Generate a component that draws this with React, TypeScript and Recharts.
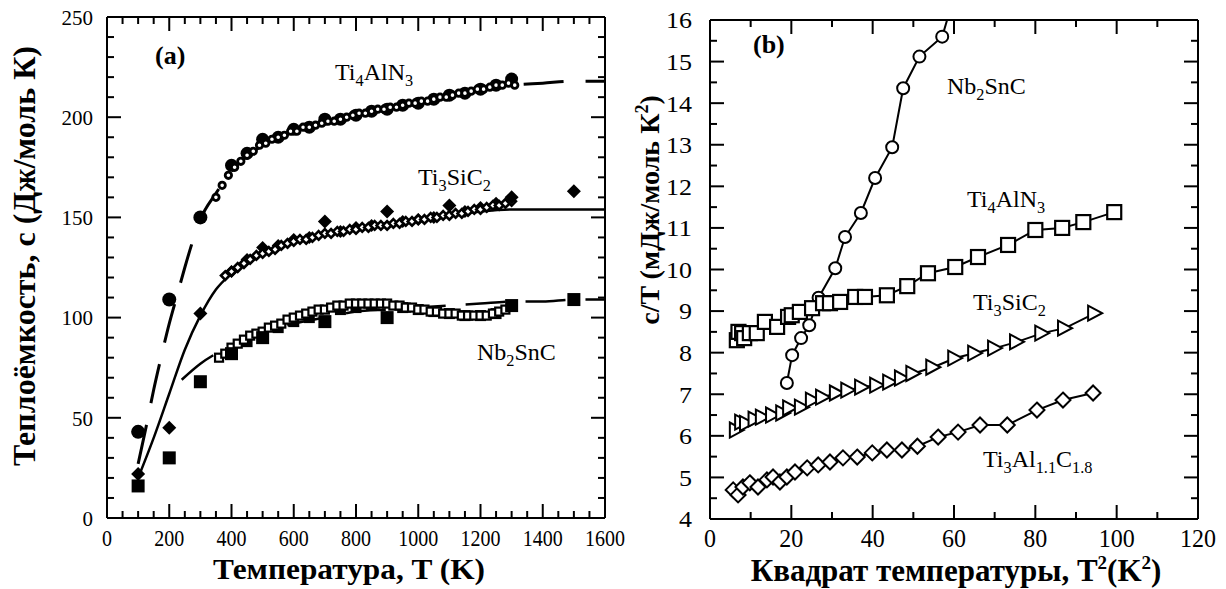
import React from "react";
import { ComposedChart, Line, Scatter, XAxis, YAxis } from "recharts";

const FONT = "Liberation Serif";

// ---------- (a) heat capacity vs temperature ----------
const aMajorX = [0, 200, 400, 600, 800, 1000, 1200, 1400, 1600];
const aMajorY = [0, 50, 100, 150, 200, 250];

// Ti4AlN3
const alnBigT = [100, 200, 300];
const alnBigC = [43, 109, 150];
const alnDotT = [400, 450, 500, 550, 600, 650, 700, 750, 800, 850, 900, 950, 1000, 1050, 1100, 1150, 1200, 1250, 1300];
const alnDotC = [176, 182, 189, 190, 194, 195, 199, 199, 201, 203, 204, 206, 207, 209, 211, 212, 214, 216, 219];
const alnRingT = [350, 370, 390, 410, 430, 450, 470, 490, 510, 530, 550, 570, 590, 610, 630, 650, 670, 690, 710, 730, 750, 770, 790, 810, 830, 850, 870, 890, 910, 930, 950, 970, 990, 1010, 1030, 1050, 1070, 1090, 1110, 1130, 1150, 1170, 1190, 1210, 1230, 1250, 1270, 1290, 1310];
const alnRingC = [160, 166, 171, 175, 178, 181, 183, 186, 187, 189, 190, 191, 193, 193, 195, 195, 196, 197, 198, 198, 199, 200, 201, 202, 202, 203, 204, 204, 205, 205, 206, 207, 207, 208, 208, 209, 210, 210, 211, 212, 212, 213, 214, 214, 215, 216, 216, 217, 216];
const alnFitT = [100, 125, 150, 175, 200, 225, 250, 275, 300, 350, 400, 500, 600, 700, 800, 900, 1000, 1100, 1200, 1300, 1400, 1500, 1600];
const alnFitC = [27, 45, 64, 81, 97, 111, 125, 138, 149, 162, 173, 186, 193, 198, 202, 205, 208, 211, 214, 216, 217, 218, 218];

// Ti3SiC2
const sicBigT = [100, 200, 300, 700, 900, 1100, 1300, 1500];
const sicBigC = [22, 45, 102, 148, 153, 156, 160, 163];
const sicDotT = [400, 450, 500, 550, 600, 650, 750, 800, 850, 950, 1000, 1050, 1150, 1200, 1250];
const sicDotC = [123, 129, 135, 136, 139, 140, 143, 145, 146, 148, 149, 150, 153, 155, 157];
const sicRingT = [380, 400, 420, 440, 460, 480, 500, 520, 540, 560, 580, 600, 620, 640, 660, 680, 700, 720, 740, 760, 780, 800, 820, 840, 860, 880, 900, 920, 940, 960, 980, 1000, 1020, 1040, 1060, 1080, 1100, 1120, 1140, 1160, 1180, 1200, 1220, 1240, 1260, 1280, 1300];
const sicRingC = [121, 123, 125, 127, 129, 131, 132, 133, 134, 136, 137, 138, 139, 139, 140, 141, 142, 142, 143, 143, 144, 144, 145, 145, 146, 146, 146, 147, 147, 148, 148, 149, 149, 150, 150, 151, 151, 152, 152, 153, 154, 154, 155, 156, 156, 157, 158];
const sicFitT = [100, 150, 200, 250, 300, 350, 400, 500, 600, 700, 800, 900, 1000, 1100, 1200, 1300, 1400, 1500, 1600];
const sicFitC = [20, 40, 62, 84, 101, 114, 122, 132, 138, 142, 145, 147, 149, 151, 153, 154, 154, 154, 154];

// Nb2SnC
const nbBigT = [100, 200, 300, 400, 500, 700, 900, 1300, 1500];
const nbBigC = [16, 30, 68, 82, 90, 98, 100, 106, 109];
const nbDotT = [450, 550, 600, 650, 750, 800, 850, 950, 1000, 1050, 1100, 1150, 1200, 1250];
const nbDotC = [88, 95, 98, 100, 104, 105, 106, 105, 104, 103, 102, 101, 101, 102];
const nbRingT = [360, 380, 400, 420, 440, 460, 480, 500, 520, 540, 560, 580, 600, 620, 640, 660, 680, 700, 720, 740, 760, 780, 800, 820, 840, 860, 880, 900, 920, 940, 960, 980, 1000, 1020, 1040, 1060, 1080, 1100, 1120, 1140, 1160, 1180, 1200, 1220, 1240, 1260, 1280];
const nbRingC = [80, 82, 85, 87, 89, 91, 92, 93, 95, 96, 97, 99, 100, 101, 102, 103, 104, 104, 105, 106, 106, 107, 107, 107, 107, 107, 107, 107, 106, 106, 105, 105, 104, 104, 103, 103, 102, 102, 102, 101, 101, 101, 101, 101, 102, 103, 104];
const nbFitT = [240, 300, 350, 400, 500, 600, 700, 800, 900, 1000, 1100, 1200, 1300, 1400, 1500, 1600];
const nbFitC = [69, 77, 82, 86, 92, 97, 100, 103, 104, 105, 106, 107, 108, 108, 109, 109];

// ---------- (b) c/T vs T^2 ----------
const bMajorX = [0, 20, 40, 60, 80, 100, 120];
const bMajorY = [4, 5, 6, 7, 8, 9, 10, 11, 12, 13, 14, 15, 16];

const bNbX = [18.9, 20.2, 22.4, 24.4, 26.7, 30.8, 33.2, 37.1, 40.6, 44.8, 47.5, 51.5, 57.1, 61];
const bNbY = [7.27, 7.94, 8.35, 8.66, 9.32, 10.03, 10.78, 11.36, 12.2, 12.94, 14.36, 15.12, 15.6, 16.9];

const bAlnX = [6.6, 7.0, 7.9, 8.4, 9.8, 11.5, 13.5, 16.5, 19.2, 20.1, 22.1, 25.1, 27.8, 29.5, 32.0, 35.7, 38.1, 43.5, 48.5, 53.6, 60.3, 65.9, 73.3, 80.0, 86.6, 91.8, 99.4];
const bAlnY = [8.3, 8.5, 8.47, 8.35, 8.47, 8.47, 8.74, 8.62, 8.86, 8.9, 8.98, 9.07, 9.19, 9.19, 9.22, 9.34, 9.34, 9.38, 9.6, 9.91, 10.06, 10.3, 10.59, 10.95, 11.0, 11.14, 11.38];

const bSicX = [6.6, 7.9, 9.1, 11.2, 13.0, 15.5, 18.0, 19.7, 22.6, 25.3, 27.8, 31.2, 34.0, 37.4, 41.1, 44.3, 47.2, 50.0, 54.9, 60.3, 65.2, 70.1, 75.5, 81.7, 87.3, 94.7];
const bSicY = [6.14, 6.33, 6.3, 6.4, 6.45, 6.5, 6.55, 6.67, 6.69, 6.86, 6.93, 7.03, 7.1, 7.17, 7.22, 7.29, 7.39, 7.5, 7.65, 7.87, 7.99, 8.11, 8.26, 8.47, 8.59, 8.95];

const bTacX = [5.7, 6.9, 8.1, 9.8, 11.8, 14.0, 15.5, 17.2, 18.9, 20.9, 23.9, 26.6, 29.5, 32.7, 36.2, 39.9, 43.5, 47.2, 51.0, 56.1, 61.0, 66.4, 73.1, 80.4, 86.8, 94.2];
const bTacY = [4.7, 4.58, 4.77, 4.87, 4.77, 4.94, 5.01, 4.89, 5.01, 5.13, 5.23, 5.3, 5.37, 5.47, 5.49, 5.59, 5.66, 5.66, 5.75, 5.97, 6.09, 6.26, 6.26, 6.62, 6.86, 7.03];

const pts = (xs: number[], ys: number[]) => xs.map((x, i) => ({ x, y: ys[i] }));

// add evenly spaced minor ticks between consecutive majors
const withMinor = (majors: number[], parts: number) => {
  const out: number[] = [];
  majors.forEach((m, i) => {
    out.push(m);
    if (i < majors.length - 1) {
      const step = (majors[i + 1] - m) / parts;
      for (let k = 1; k < parts; k++) out.push(+(m + k * step).toFixed(4));
    }
  });
  return out;
};

const isMajor = (v: number, majors: number[]) => majors.some((m) => Math.abs(m - v) < 1e-6);

type TickCfg = { majors: number[]; fontSize?: number; digitW?: number; offset?: number };
const MAJ = 14;
const MIN = 7;
const txt = (size: number, bold = false): React.CSSProperties => ({
  fontFamily: FONT,
  fontSize: size,
  fontWeight: bold ? "bold" : "normal",
  fill: "#000",
});

const bottomTick = (c: TickCfg) => (p: any) => {
  const v = p.payload.value;
  const major = isMajor(v, c.majors);
  return (
    <g>
      <line x1={p.x} x2={p.x} y1={p.y} y2={p.y - (major ? MAJ : MIN)} stroke="#000" strokeWidth={2} />
      {major && (
        <text x={p.x} y={p.y + (c.offset ?? 28)} textAnchor="middle" style={txt(c.fontSize ?? 24)}
          textLength={String(v).length * (c.digitW ?? 10)} lengthAdjust="spacingAndGlyphs">
          {v}
        </text>
      )}
    </g>
  );
};

const topTick = (c: TickCfg) => (p: any) => {
  const major = isMajor(p.payload.value, c.majors);
  return <line x1={p.x} x2={p.x} y1={p.y} y2={p.y + (major ? MAJ : MIN)} stroke="#000" strokeWidth={2} />;
};

const leftTick = (c: TickCfg) => (p: any) => {
  const v = p.payload.value;
  const major = isMajor(v, c.majors);
  return (
    <g>
      <line x1={p.x} x2={p.x + (major ? MAJ : MIN)} y1={p.y} y2={p.y} stroke="#000" strokeWidth={2} />
      {major && (
        <text x={p.x - (c.offset ?? 14)} y={p.y} dy="0.35em" textAnchor="end" style={txt(c.fontSize ?? 22)}
          textLength={String(v).length * (c.digitW ?? 10)} lengthAdjust="spacingAndGlyphs">
          {v}
        </text>
      )}
    </g>
  );
};

const rightTick = (c: TickCfg) => (p: any) => {
  const major = isMajor(p.payload.value, c.majors);
  return <line x1={p.x} x2={p.x - (major ? MAJ : MIN)} y1={p.y} y2={p.y} stroke="#000" strokeWidth={2} />;
};

// marker shapes
const none = () => <g />;
const dot = (r: number) => (p: any) => <circle cx={p.cx} cy={p.cy} r={r} fill="#000" />;
const ring = (r: number, sw: number, yMax = Infinity) => (p: any) =>
  p.payload && p.payload.y > yMax ? <g /> : <circle cx={p.cx} cy={p.cy} r={r} fill="#fff" stroke="#000" strokeWidth={sw} />;
const box = (s: number, filled: boolean, sw = 2) => (p: any) => (
  <rect x={p.cx - s / 2} y={p.cy - s / 2} width={s} height={s} fill={filled ? "#000" : "#fff"} stroke="#000" strokeWidth={sw} />
);
const rhomb = (h: number, filled: boolean, sw = 2) => (p: any) => (
  <polygon points={`${p.cx},${p.cy - h} ${p.cx + h},${p.cy} ${p.cx},${p.cy + h} ${p.cx - h},${p.cy}`}
    fill={filled ? "#000" : "#fff"} stroke="#000" strokeWidth={sw} />
);
const triRight = (w: number, h: number, sw = 2) => (p: any) => (
  <polygon points={`${p.cx + w / 2},${p.cy} ${p.cx - w / 2},${p.cy - h / 2} ${p.cx - w / 2},${p.cy + h / 2}`}
    fill="#fff" stroke="#000" strokeWidth={sw} />
);

const Formula = ({ x, y, parts, size = 24 }: { x: number; y: number; parts: [string, boolean][]; size?: number }) => (
  <text x={x} y={y} style={txt(size)}>
    {parts.map(([t, sub], i) => {
      const prevSub = i > 0 && parts[i - 1][1];
      const dy = sub ? 6 : prevSub ? -6 : 0;
      return (
        <tspan key={i} dy={dy} style={{ fontSize: sub ? size * 0.68 : size }}>
          {t}
        </tspan>
      );
    })}
  </text>
);

const axisLine = { stroke: "#000", strokeWidth: 2 };

function PanelA() {
  const xTicks = withMinor(aMajorX, 4);
  const yTicks = withMinor(aMajorY, 5);
  return (
    <ComposedChart width={630} height={589} margin={{ top: 16, right: 24, bottom: 70, left: 0 }}>
      <XAxis dataKey="x" type="number" domain={[0, 1600]} ticks={xTicks} interval={0} height={1}
        tickSize={0} tickMargin={0} tickLine={false} axisLine={axisLine}
        tick={bottomTick({ majors: aMajorX, fontSize: 24, digitW: 10, offset: 28 })} />
      <XAxis xAxisId="top" orientation="top" dataKey="x" type="number" domain={[0, 1600]} ticks={xTicks} interval={0} height={1}
        tickSize={0} tickMargin={0} tickLine={false} axisLine={axisLine} tick={topTick({ majors: aMajorX })} />
      <YAxis dataKey="y" type="number" domain={[0, 250]} ticks={yTicks} interval={0} width={107}
        tickSize={0} tickMargin={0} tickLine={false} axisLine={axisLine}
        tick={leftTick({ majors: aMajorY, fontSize: 22, digitW: 10.5, offset: 14 })} />
      <YAxis yAxisId="right" orientation="right" dataKey="y" type="number" domain={[0, 250]} ticks={yTicks} interval={0} width={1}
        tickSize={0} tickMargin={0} tickLine={false} axisLine={axisLine} tick={rightTick({ majors: aMajorY })} />

      {/* carries the mirrored frame axes */}
      <Scatter xAxisId="top" yAxisId="right" data={pts(nbBigT, nbBigC)} shape={none} isAnimationActive={false} />

      <Line data={pts(alnFitT, alnFitC)} dataKey="y" type="monotone" dot={false} stroke="#000" strokeWidth={3}
        strokeDasharray="40 22" isAnimationActive={false} />
      <Line data={pts(sicFitT, sicFitC)} dataKey="y" type="monotone" dot={false} stroke="#000" strokeWidth={2.5}
        isAnimationActive={false} />
      <Line data={pts(nbFitT, nbFitC)} dataKey="y" type="monotone" dot={false} stroke="#000" strokeWidth={2.5}
        strokeDasharray="40 20" isAnimationActive={false} />

      <Scatter data={pts(alnDotT, alnDotC)} shape={dot(6.5)} isAnimationActive={false} />
      <Scatter data={pts(alnRingT, alnRingC)} shape={ring(3.2, 2.8)} isAnimationActive={false} />
      <Scatter data={pts(alnBigT, alnBigC)} shape={dot(7)} isAnimationActive={false} />

      <Scatter data={pts(sicDotT, sicDotC)} shape={rhomb(6.5, true, 0)} isAnimationActive={false} />
      <Scatter data={pts(sicRingT, sicRingC)} shape={rhomb(4.3, false, 2.6)} isAnimationActive={false} />
      <Scatter data={pts(sicBigT, sicBigC)} shape={rhomb(7, true, 0)} isAnimationActive={false} />

      <Scatter data={pts(nbDotT, nbDotC)} shape={box(11, true, 0)} isAnimationActive={false} />
      <Scatter data={pts(nbRingT, nbRingC)} shape={box(8, false, 2.2)} isAnimationActive={false} />
      <Scatter data={pts(nbBigT, nbBigC)} shape={box(13, true, 0)} isAnimationActive={false} />
    </ComposedChart>
  );
}

function PanelB() {
  const xTicks = withMinor(bMajorX, 2);
  const yTicks = withMinor(bMajorY, 2);
  const joint = { stroke: "#000", strokeWidth: 2 };
  return (
    <ComposedChart width={598} height={589} margin={{ top: 19, right: 27, bottom: 69, left: 0 }}>
      <XAxis dataKey="x" type="number" domain={[0, 120]} ticks={xTicks} interval={0} height={1}
        tickSize={0} tickMargin={0} tickLine={false} axisLine={axisLine}
        tick={bottomTick({ majors: bMajorX, fontSize: 26, digitW: 12, offset: 28 })} />
      <XAxis xAxisId="top" orientation="top" dataKey="x" type="number" domain={[0, 120]} ticks={xTicks} interval={0} height={1}
        tickSize={0} tickMargin={0} tickLine={false} axisLine={axisLine} tick={topTick({ majors: bMajorX })} />
      <YAxis dataKey="y" type="number" domain={[4, 16]} allowDataOverflow ticks={yTicks} interval={0} width={82}
        tickSize={0} tickMargin={0} tickLine={false} axisLine={axisLine}
        tick={leftTick({ majors: bMajorY, fontSize: 24, digitW: 13, offset: 18 })} />
      <YAxis yAxisId="right" orientation="right" dataKey="y" type="number" domain={[4, 16]} allowDataOverflow ticks={yTicks} interval={0} width={1}
        tickSize={0} tickMargin={0} tickLine={false} axisLine={axisLine} tick={rightTick({ majors: bMajorY })} />

      {/* carries the mirrored frame axes */}
      <Scatter xAxisId="top" yAxisId="right" data={pts(bTacX, bTacY)} shape={none} isAnimationActive={false} />

      <Scatter data={pts(bTacX, bTacY)} line={joint} lineType="joint" shape={rhomb(7.5, false, 2)} isAnimationActive={false} />
      <Scatter data={pts(bSicX, bSicY)} line={joint} lineType="joint" shape={triRight(14, 15, 2)} isAnimationActive={false} />
      <Scatter data={pts(bNbX, bNbY)} line={joint} lineType="joint" shape={ring(6, 2, 16)} isAnimationActive={false} />
      <Scatter data={pts(bAlnX, bAlnY)} line={joint} lineType="joint" shape={box(14, false, 2.2)} isAnimationActive={false} />
    </ComposedChart>
  );
}

export default function App() {
  return (
    <div style={{ position: "absolute", left: 0, top: 0, width: 1226, height: 589, background: "#fff", overflow: "hidden" }}>
      <div style={{ position: "absolute", left: 628, top: 0 }}>
        <PanelB />
      </div>
      <div style={{ position: "absolute", left: 0, top: 0 }}>
        <PanelA />
      </div>
      <svg width={1226} height={589} style={{ position: "absolute", left: 0, top: 0, pointerEvents: "none" }}>
        {/* panel (a) captions */}
        <text x={155} y={64} style={txt(26, true)}>(a)</text>
        <text transform="translate(35,256) rotate(-90)" textAnchor="middle" style={txt(31, true)}
          textLength={420} lengthAdjust="spacingAndGlyphs">Теплоёмкость, с (Дж/моль К)</text>
        <text x={349} y={579} textAnchor="middle" style={txt(30, true)}
          textLength={272} lengthAdjust="spacingAndGlyphs">Температура, T (K)</text>
        <Formula x={335} y={80} parts={[["Ti", false], ["4", true], ["AlN", false], ["3", true]]} />
        <Formula x={418} y={185} parts={[["Ti", false], ["3", true], ["SiC", false], ["2", true]]} />
        <Formula x={477} y={360} parts={[["Nb", false], ["2", true], ["SnC", false]]} />

        {/* panel (b) captions */}
        <text x={753} y={53} style={txt(26, true)}>(b)</text>
        <text transform="translate(659,210) rotate(-90)" textAnchor="middle" style={txt(28, true)}>
          c/T (мДж/моль К<tspan dy={-11} style={{ fontSize: 18 }}>2</tspan><tspan dy={11}>)</tspan>
        </text>
        <text x={956} y={581} textAnchor="middle" style={txt(31, true)}>
          Квадрат температуры, T<tspan dy={-12} style={{ fontSize: 19 }}>2</tspan><tspan dy={12}>(K</tspan>
          <tspan dy={-12} style={{ fontSize: 19 }}>2</tspan><tspan dy={12}>)</tspan>
        </text>
        <Formula x={947} y={94} parts={[["Nb", false], ["2", true], ["SnC", false]]} />
        <Formula x={967} y={207} parts={[["Ti", false], ["4", true], ["AlN", false], ["3", true]]} />
        <Formula x={973} y={310} parts={[["Ti", false], ["3", true], ["SiC", false], ["2", true]]} />
        <Formula x={983} y={467} parts={[["Ti", false], ["3", true], ["Al", false], ["1.1", true], ["C", false], ["1.8", true]]} />
      </svg>
    </div>
  );
}
